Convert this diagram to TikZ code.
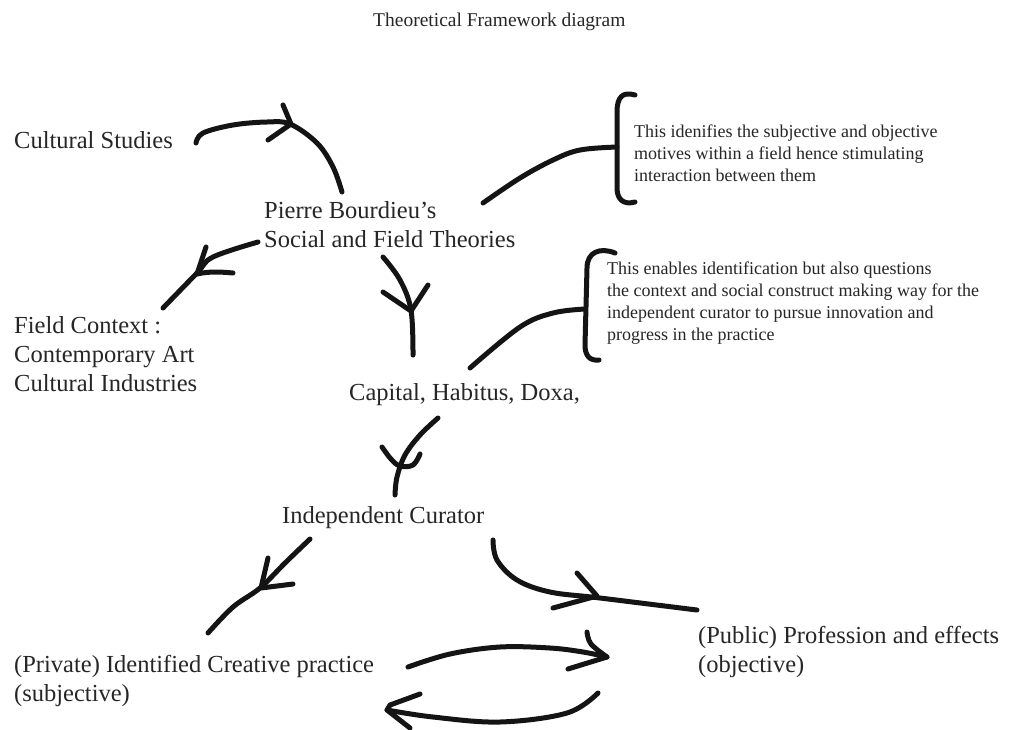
\documentclass[tikz,border=0pt]{standalone}
\usepackage{fontspec}
\setmainfont{Liberation Serif}
\definecolor{ink}{HTML}{141414}
\definecolor{txt}{HTML}{262626}
\begin{document}
\begin{tikzpicture}[x=1pt,y=-1pt,
  pen/.style={draw=ink,line width=5pt,line cap=round,line join=round},
  lbl/.style={inner sep=0pt,anchor=base west,text=txt,align=left,font=\fontsize{24.5}{29}\selectfont},
  note/.style={lbl,font=\fontsize{18}{21.8}\selectfont},
  ttl/.style={lbl,font=\fontsize{19.5}{23}\selectfont}]
\useasboundingbox (0,0) rectangle (1032,729);
\fill[white] (0,0) rectangle (1032,729);

% texts (base west = baseline of the last line)
\node[ttl] (title) at (373,26) {Theoretical Framework diagram};
\node[lbl] (cult) at (14,148) {Cultural Studies};
\node[lbl] (pierre) at (264,247) {Pierre Bourdieu’s\\Social and Field Theories};
\node[lbl] (field) at (14,391) {Field Context :\\Contemporary Art\\Cultural Industries};
\node[lbl] (capital) at (349,400) {Capital, Habitus, Doxa,};
\node[lbl] (curator) at (282,523) {Independent Curator};
\node[lbl] (private) at (14,701) {(Private) Identified Creative practice\\(subjective)};
\node[lbl] (public) at (698,672) {(Public) Profession and effects\\(objective)};
\node[note] (noteA) at (634,181) {This idenifies the subjective and objective\\motives within a field hence stimulating\\interaction between them};
\node[note,font=\fontsize{18}{21.7}\selectfont] (noteB) at (607,340) {This enables identification but also questions\\the context and social construct making way for the\\independent curator to pursue innovation and\\progress in the practice};

% connector end points
\coordinate (cultE) at (196,143);
\coordinate (pierreN) at (342,192);
\coordinate (pierreW) at (258,242);
\coordinate (fieldN) at (163,308);
\coordinate (pierreS) at (383,257);
\coordinate (capitalN) at (413,355);
\coordinate (pierreE) at (483,203);
\coordinate (braceA) at (617,147);
\coordinate (capitalE) at (470,368);
\coordinate (braceB) at (585,309);
\coordinate (capitalS) at (438,418);
\coordinate (curatorN) at (395,495);
\coordinate (curatorSW) at (310,539);
\coordinate (privateN) at (208,633);
\coordinate (curatorSE) at (493,540);
\coordinate (publicN) at (697,610);
\coordinate (privateE) at (408,667);
\coordinate (publicW) at (607,657);
\coordinate (publicSW) at (598,693);
\coordinate (privateSE) at (387,710);

% Cultural Studies -> Pierre
\draw[pen] plot[smooth,tension=0.6] coordinates {(cultE) (203,133) (233,125) (267,122) (290,124) (317,143) (333,167) (pierreN)};
\draw[pen] (283,105) -- (291,124) -- (268,140);

% Pierre -> Field Context
\draw[pen] plot[smooth,tension=0.6] coordinates {(pierreW) (213,257) (197,273) (fieldN)};
\draw[pen] (206,247) -- (197,274) .. controls (210,271) and (222,272) .. (233,273);

% Pierre -> Capital
\draw[pen] plot[smooth,tension=0.6] coordinates {(pierreS) (400,280) (411,310) (capitalN)};
\draw[pen] (383,292) -- (411,311) -- (428,285);

% Pierre -> note A
\draw[pen] plot[smooth,tension=0.6] coordinates {(pierreE) (520,178) (553,160) (580,150) (braceA)};
\draw[pen] (635,95) .. controls (622,91) and (617,98) .. (617,112) -- (617,188) .. controls (617,200) and (624,205) .. (635,202);

% Capital -> note B
\draw[pen] plot[smooth,tension=0.6] coordinates {(capitalE) (520,327) (553,313) (braceB)};
\draw[pen] (615,253) .. controls (600,247) and (587,252) .. (587,268) -- (585,345) .. controls (585,356) and (590,361) .. (599,360);

% Capital -> Curator
\draw[pen] plot[smooth,tension=0.6] coordinates {(capitalS) (420,435) (405,455) (397,477) (curatorN)};
\draw[pen] plot[smooth,tension=0.6] coordinates {(382,447) (391,459) (400,466) (413,465) (420,454)};

% Curator -> Private
\draw[pen] plot[smooth,tension=0.6] coordinates {(curatorSW) (285,563) (260,588) (233,607) (privateN)};
\draw[pen] (268,558) -- (261,588) -- (293,584);

% Curator -> Public
\draw[pen] plot[smooth,tension=0.6] coordinates {(curatorSE) (497,560) (517,580) (550,592) (600,598) (publicN)};
\draw[pen] (577,573) -- (597,596) -- (553,608);

% Private -> Public
\draw[pen] plot[smooth,tension=0.6] coordinates {(privateE) (450,654) (500,647) (550,648) (583,652) (publicW)};
\draw[pen] plot[smooth,tension=0.6] coordinates {(587,632) (591,644) (publicW)} -- (568,669);

% Public -> Private
\draw[pen] plot[smooth,tension=0.6] coordinates {(publicSW) (567,713) (500,722) (433,717) (privateSE)};
\draw[pen] (420,694) -- (390,705) -- (privateSE) -- (410,728);
\end{tikzpicture}
\end{document}
